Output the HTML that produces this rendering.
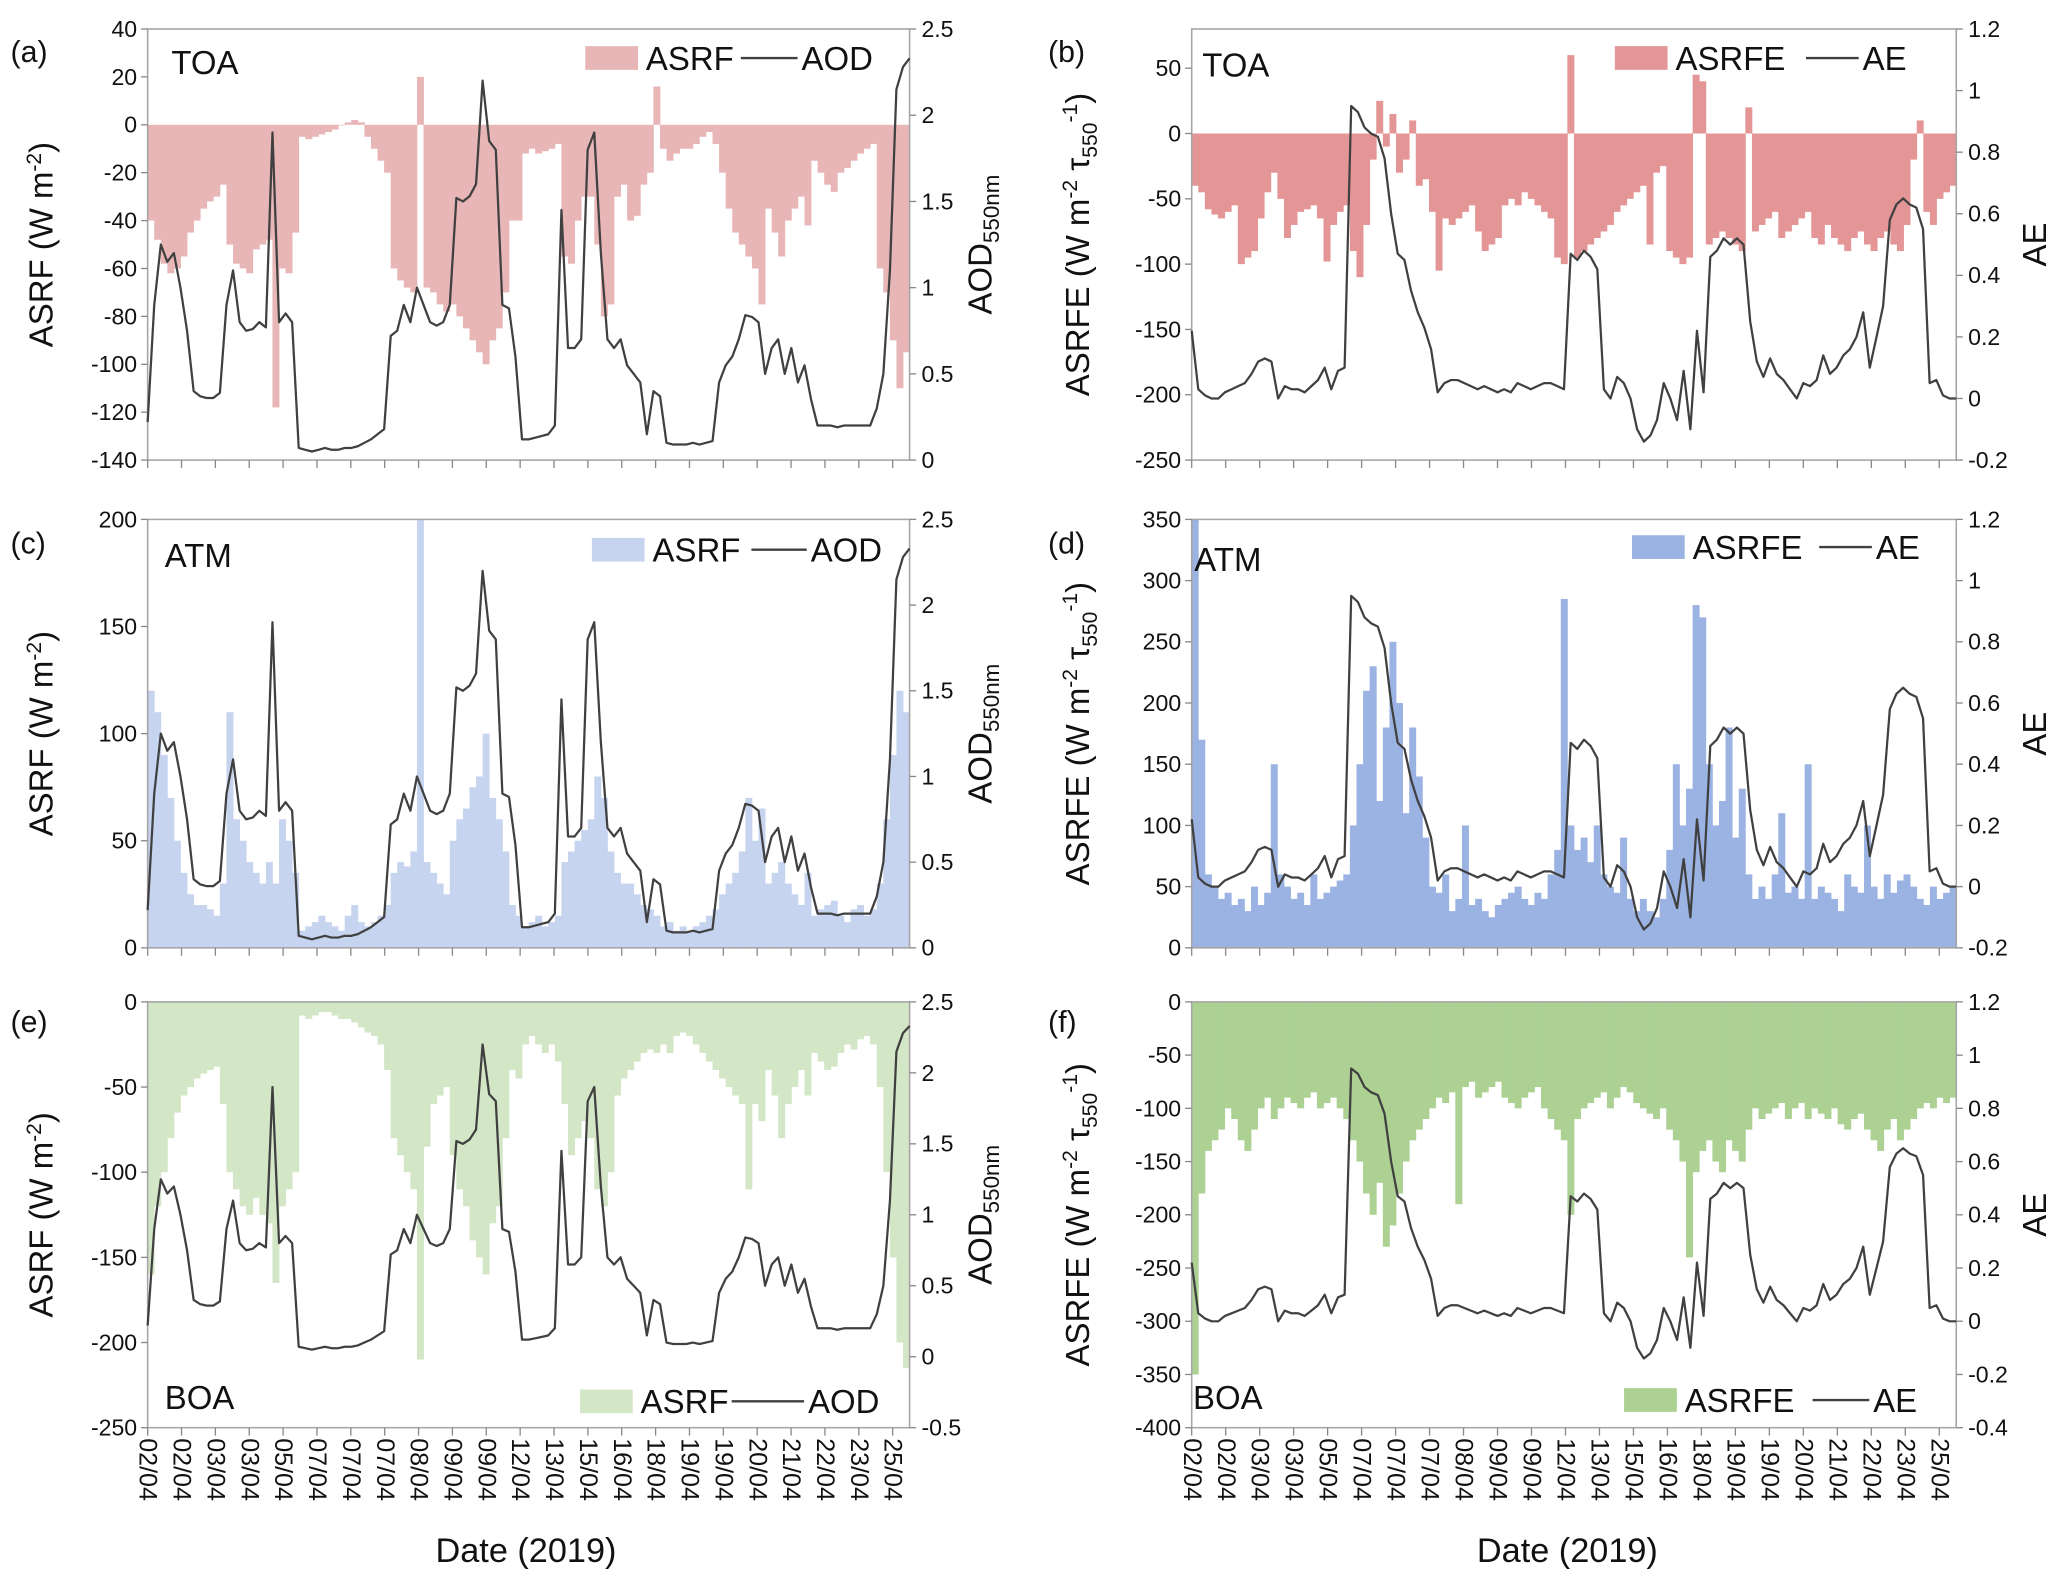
<!DOCTYPE html>
<html><head><meta charset="utf-8"><style>
html,body{margin:0;padding:0;background:#fff;}
svg{display:block;font-family:"Liberation Sans",sans-serif;}
</style></head><body>
<svg id="fig" width="2067" height="1588" viewBox="0 0 1568 1204.6" preserveAspectRatio="none" xmlns="http://www.w3.org/2000/svg"></svg>
<script>
// ---- data ----
const dateLabels = ["02/04","02/04","03/04","03/04","05/04","07/04","07/04","07/04","08/04","09/04","09/04","12/04","13/04","15/04","16/04","18/04","19/04","19/04","20/04","21/04","22/04","23/04","25/04"];
const aodValues = [0.22,0.9,1.25,1.15,1.2,1.0,0.75,0.4,0.37,0.36,0.36,0.39,0.9,1.1,0.8,0.75,0.76,0.8,0.77,1.9,0.8,0.85,0.8,0.07,0.06,0.05,0.06,0.07,0.06,0.06,0.07,0.07,0.08,0.1,0.12,0.15,0.18,0.72,0.75,0.9,0.8,1.0,0.9,0.8,0.78,0.8,0.9,1.52,1.5,1.53,1.6,2.2,1.85,1.8,0.9,0.88,0.6,0.12,0.12,0.13,0.14,0.15,0.2,1.45,0.65,0.65,0.7,1.8,1.9,1.2,0.7,0.65,0.7,0.55,0.5,0.45,0.15,0.4,0.37,0.1,0.09,0.09,0.09,0.1,0.09,0.1,0.11,0.45,0.55,0.6,0.7,0.84,0.83,0.8,0.5,0.65,0.7,0.5,0.65,0.45,0.55,0.35,0.2,0.2,0.2,0.19,0.2,0.2,0.2,0.2,0.2,0.3,0.5,1.1,2.15,2.28,2.33];
const aeValues = [0.22,0.03,0.01,0.0,0.0,0.02,0.03,0.04,0.05,0.08,0.12,0.13,0.12,0.0,0.04,0.03,0.03,0.02,0.04,0.06,0.1,0.03,0.09,0.1,0.95,0.93,0.88,0.86,0.85,0.78,0.6,0.47,0.45,0.35,0.28,0.23,0.16,0.02,0.05,0.06,0.06,0.05,0.04,0.03,0.04,0.03,0.02,0.03,0.02,0.05,0.04,0.03,0.04,0.05,0.05,0.04,0.03,0.47,0.45,0.48,0.46,0.42,0.03,0.0,0.07,0.05,0.0,-0.1,-0.14,-0.12,-0.07,0.05,0.0,-0.07,0.09,-0.1,0.22,0.02,0.46,0.48,0.52,0.5,0.52,0.5,0.25,0.12,0.07,0.13,0.08,0.06,0.03,0.0,0.05,0.04,0.06,0.14,0.08,0.1,0.14,0.16,0.2,0.28,0.1,0.2,0.3,0.58,0.63,0.65,0.63,0.62,0.55,0.05,0.06,0.01,0.0,0.0];
const asrfToa = [-40,-48,-58,-62,-60,-55,-45,-40,-35,-32,-30,-25,-50,-58,-60,-62,-52,-50,-48,-118,-60,-62,-45,-5,-6,-5,-4,-3,-2,0,1,2,1,-5,-10,-15,-20,-60,-65,-68,-70,20,-68,-70,-75,-78,-75,-80,-85,-90,-95,-100,-90,-85,-70,-40,-40,-12,-10,-12,-11,-10,-8,-55,-58,-40,-30,-30,-50,-80,-75,-30,-25,-40,-38,-25,-20,16,-10,-15,-12,-10,-10,-8,-5,-3,-8,-20,-35,-45,-50,-55,-60,-75,-35,-45,-55,-40,-35,-30,-42,-15,-20,-25,-28,-20,-18,-15,-12,-10,-8,-60,-70,-90,-110,-95];
const asrfAtm = [120,110,90,70,50,35,25,20,20,18,15,30,110,60,50,40,35,30,40,30,60,50,35,8,10,12,15,12,10,8,15,20,12,10,12,15,20,35,40,38,45,200,40,35,30,25,50,60,65,75,80,100,70,60,45,20,15,10,12,15,10,12,15,40,45,50,55,60,80,70,45,35,30,30,25,20,18,15,10,12,8,10,8,10,12,15,18,25,30,35,45,70,50,65,30,35,40,30,25,20,35,15,18,20,22,15,12,18,20,15,18,30,60,90,120,110];
const asrfBoa = [-160,-120,-100,-80,-65,-55,-50,-45,-42,-40,-38,-60,-100,-110,-120,-125,-115,-125,-130,-165,-120,-110,-100,-8,-10,-8,-6,-6,-8,-10,-10,-12,-15,-18,-20,-25,-40,-80,-90,-100,-110,-210,-85,-60,-55,-50,-90,-110,-120,-140,-150,-160,-130,-120,-80,-40,-45,-25,-20,-25,-30,-25,-35,-60,-90,-80,-70,-80,-110,-120,-100,-55,-45,-40,-35,-30,-28,-30,-25,-30,-20,-18,-20,-25,-30,-35,-40,-45,-50,-55,-60,-110,-60,-70,-40,-55,-80,-60,-50,-40,-55,-30,-35,-40,-38,-30,-25,-28,-22,-20,-25,-50,-100,-150,-200,-215];
const asrfeToa = [-40,-45,-58,-62,-65,-60,-55,-100,-95,-90,-65,-45,-30,-50,-80,-70,-60,-58,-55,-65,-98,-70,-60,-55,-90,-110,-70,-20,25,-10,15,-30,-20,10,-40,-35,-60,-105,-65,-70,-65,-60,-55,-75,-90,-85,-80,-55,-50,-55,-45,-50,-55,-60,-65,-95,-100,60,-95,-90,-85,-80,-75,-70,-60,-55,-50,-45,-40,-85,-30,-25,-90,-95,-100,-95,45,40,-85,-80,-75,-80,-85,-90,20,-75,-70,-65,-60,-80,-75,-70,-65,-60,-80,-85,-70,-80,-85,-90,-80,-75,-85,-90,-80,-75,-85,-90,-70,-20,10,-60,-70,-50,-45,-40];
const asrfeAtm = [350,170,60,50,40,45,35,40,30,50,35,45,150,60,50,40,45,35,60,40,45,50,55,60,100,150,210,230,120,180,250,200,110,180,140,90,50,45,60,30,40,100,35,40,30,25,35,40,45,50,40,35,45,40,60,80,285,100,80,90,70,100,60,50,45,90,40,30,40,30,25,40,80,150,100,130,280,270,150,100,120,180,90,130,60,40,50,40,60,110,45,50,40,150,40,50,45,40,30,60,50,45,100,50,40,60,45,55,60,50,40,35,50,40,45,50];
const asrfeBoa = [-350,-180,-140,-130,-120,-100,-110,-130,-140,-120,-100,-90,-110,-100,-90,-95,-100,-90,-85,-100,-95,-90,-100,-110,-130,-150,-180,-200,-170,-230,-210,-180,-150,-130,-120,-110,-100,-90,-95,-85,-190,-80,-75,-90,-85,-80,-75,-90,-95,-100,-90,-85,-80,-100,-110,-120,-130,-200,-110,-100,-95,-90,-85,-100,-90,-80,-85,-95,-100,-105,-110,-100,-120,-130,-150,-240,-160,-140,-130,-150,-160,-130,-140,-150,-120,-100,-110,-105,-100,-95,-110,-100,-95,-110,-100,-105,-110,-100,-115,-120,-110,-105,-120,-130,-140,-120,-110,-130,-120,-110,-100,-95,-100,-90,-95,-90];
const ticksA = [40,20,0,-20,-40,-60,-80,-100,-120,-140];
const ticksB = [50,0,-50,-100,-150,-200,-250];
const ticksC = [200,150,100,50,0];
const ticksD = [350,300,250,200,150,100,50,0];
const ticksE = [0,-50,-100,-150,-200,-250];
const ticksF = [0,-50,-100,-150,-200,-250,-300,-350,-400];
const ticksAod = [2.5,2,1.5,1,0.5,0];
const ticksAodE = [2.5,2,1.5,1,0.5,0,-0.5];
const ticksAe = [1.2,1,0.8,0.6,0.4,0.2,0,-0.2];
const ticksAeF = [1.2,1,0.8,0.6,0.4,0.2,0,-0.2,-0.4];

const NS='http://www.w3.org/2000/svg';
const svg=document.getElementById('fig');
function mk(tag,attrs,parent,text){const e=document.createElementNS(NS,tag);for(const k in attrs)e.setAttribute(k,attrs[k]);if(text!==undefined)e.textContent=text;(parent||svg).appendChild(e);return e;}
function fmt(v){return String(v);}

function panel(p){
  const g=mk('g',{});
  
  
  const yL=v=>p.y1-(v-p.lmin)/(p.lmax-p.lmin)*(p.y1-p.y0);
  const yR=v=>p.y1-(v-p.rmin)/(p.rmax-p.rmin)*(p.y1-p.y0);
  const nb=p.bars.length;
  const bx=i=>p.x0+(i+0.5)*(p.x1-p.x0)/nb;
  const bg=mk('g',{},g);
  
  
  const bw=(p.x1-p.x0)/nb*1.0;
  const base=yL(Math.max(p.lmin,Math.min(p.lmax,0)));
  p.bars.forEach((v,i)=>{
    const y=yL(v);
    const r=mk('rect',{x:bx(i)-bw/2,y:Math.min(y,base),width:bw+0.3,height:Math.max(0.5,Math.abs(y-base)),fill:p.color},bg);
    
    
  });
  const fr=mk('rect',{x:p.x0,y:p.y0,width:p.x1-p.x0,height:p.y1-p.y0,fill:'none',stroke:'#a6a6a6','stroke-width':1.2},g);
  
  
  const nl=p.line.length;
  const lx=i=>p.x0+i*(p.x1-p.x0)/(nl-1);
  const d=p.line.map((v,i)=>(i?'L':'M')+lx(i).toFixed(1)+' '+yR(v).toFixed(1)).join(' ');
  const pl=mk('path',{d:d,fill:'none',stroke:'#404040','stroke-width':1.7,'stroke-linejoin':'round'},g);
  
  
  p.lticks.forEach(v=>{
    const y=yL(v);
    mk('line',{x1:p.x0-5,x2:p.x0,y1:y,y2:y,stroke:'#888'},g);
    const t=mk('text',{x:p.x0-8,y:y+6,'text-anchor':'end','font-size':17.5,fill:'#111'},g,fmt(v));
    
    
  });
  p.rticks.forEach(v=>{
    const y=yR(v);
    mk('line',{x1:p.x1,x2:p.x1+5,y1:y,y2:y,stroke:'#888'},g);
    const t=mk('text',{x:p.x1+9,y:y+6,'font-size':17.5,fill:'#111'},g,fmt(v));
    
    
  });
  const step=(p.x1-p.x0)/22.5;
  for(let i=0;i<dateLabels.length;i++){
    const x=p.x0+i*step;
    mk('line',{x1:x,x2:x,y1:p.y1,y2:p.y1+6,stroke:'#888'},g);
    if(p.xlabels){
      const t=mk('text',{x:0,y:0,'font-size':19,fill:'#111',transform:`translate(${x-6},${p.y1+8}) rotate(90)`},g,dateLabels[i]);
      
      
    }
  }
  const lt=mk('text',{x:p.lx,y:p.ly,'font-size':23,fill:'#111'},g,'('+p.id+')');
  
  
  const rt=mk('text',{x:p.rx,y:p.ry,'font-size':25,fill:'#111'},g,p.region);
  
  
  const lg=mk('g',{},g);
  
  
  const L=p.leg;
  mk('rect',{x:L.sx,y:L.y-9,width:40,height:18,fill:p.color},lg);
  mk('text',{x:L.sx+46,y:L.y+9,'font-size':25,fill:'#111'},lg,p.barName);
  mk('line',{x1:L.lx1,x2:L.lx2,y1:L.y,y2:L.y,stroke:'#404040','stroke-width':1.8},lg);
  mk('text',{x:L.lx2+3,y:L.y+9,'font-size':25,fill:'#111'},lg,p.lineName);
  const cy=(p.y0+p.y1)/2;
  const lt2=mk('text',{transform:`translate(${p.ltx},${cy}) rotate(-90)`,'text-anchor':'middle','font-size':25,fill:'#111'},g);
  
  
  if(p.barName==='ASRF'){
    lt2.innerHTML='ASRF (W m<tspan dy="-9" font-size="16">-2</tspan><tspan dy="9">)</tspan>';
  } else {
    lt2.innerHTML='ASRFE (W m<tspan dy="-9" font-size="16">-2</tspan><tspan dy="9"> τ</tspan><tspan dy="6" font-size="16">550</tspan><tspan dy="-15" font-size="16">-1</tspan><tspan dy="9">)</tspan>';
  }
  const rt2=mk('text',{transform:`translate(${p.rtx},${cy}) rotate(-90)`,'text-anchor':'middle','font-size':25,fill:'#111'},g);
  
  
  if(p.lineName==='AOD') rt2.innerHTML='AOD<tspan dy="6" font-size="17">550nm</tspan>';
  else rt2.textContent='AE';
}

const LX0=112,LX1=690,RX0=904,RX1=1484;
panel({id:'a',x0:LX0,x1:LX1,y0:22,y1:349,lmin:-140,lmax:40,rmin:0,rmax:2.5,lticks:ticksA,rticks:ticksAod,bars:asrfToa,color:'#e8b6b6',line:aodValues,barName:'ASRF',lineName:'AOD',region:'TOA',lx:8,ly:47,rx:130,ry:56,leg:{sx:444,y:44,lx1:562,lx2:605},ltx:40,rtx:752,xlabels:false});
panel({id:'b',x0:RX0,x1:RX1,y0:22,y1:349,lmin:-250,lmax:80,rmin:-0.2,rmax:1.2,lticks:ticksB,rticks:ticksAe,bars:asrfeToa,color:'#e49696',line:aeValues,barName:'ASRFE',lineName:'AE',region:'TOA',lx:795,ly:47,rx:912,ry:58,leg:{sx:1225,y:44,lx1:1370,lx2:1410},ltx:826,rtx:1552,xlabels:false});
panel({id:'c',x0:LX0,x1:LX1,y0:394,y1:719,lmin:0,lmax:200,rmin:0,rmax:2.5,lticks:ticksC,rticks:ticksAod,bars:asrfAtm,color:'#c6d4ef',line:aodValues,barName:'ASRF',lineName:'AOD',region:'ATM',lx:8,ly:420,rx:125,ry:430,leg:{sx:449,y:417,lx1:570,lx2:612},ltx:40,rtx:752,xlabels:false});
panel({id:'d',x0:RX0,x1:RX1,y0:394,y1:719,lmin:0,lmax:350,rmin:-0.2,rmax:1.2,lticks:ticksD,rticks:ticksAe,bars:asrfeAtm,color:'#9bb3e2',line:aeValues,barName:'ASRFE',lineName:'AE',region:'ATM',lx:795,ly:420,rx:906,ry:433,leg:{sx:1238,y:415,lx1:1380,lx2:1420},ltx:826,rtx:1552,xlabels:false});
panel({id:'e',x0:LX0,x1:LX1,y0:760,y1:1083,lmin:-250,lmax:0,rmin:-0.5,rmax:2.5,lticks:ticksE,rticks:ticksAodE,bars:asrfBoa,color:'#d3e6c6',line:aodValues,barName:'ASRF',lineName:'AOD',region:'BOA',lx:8,ly:783,rx:125,ry:1069,leg:{sx:440,y:1063,lx1:555,lx2:610},ltx:40,rtx:752,xlabels:true});
panel({id:'f',x0:RX0,x1:RX1,y0:760,y1:1083,lmin:-400,lmax:0,rmin:-0.4,rmax:1.2,lticks:ticksF,rticks:ticksAeF,bars:asrfeBoa,color:'#acd193',line:aeValues,barName:'ASRFE',lineName:'AE',region:'BOA',lx:795,ly:783,rx:905,ry:1069,leg:{sx:1232,y:1062,lx1:1375,lx2:1418},ltx:826,rtx:1552,xlabels:true});

const d1=mk('text',{x:399,y:1185,'text-anchor':'middle','font-size':26,fill:'#111'},svg,'Date (2019)');


const d2=mk('text',{x:1189,y:1185,'text-anchor':'middle','font-size':26,fill:'#111'},svg,'Date (2019)');


</script>
</body></html>
